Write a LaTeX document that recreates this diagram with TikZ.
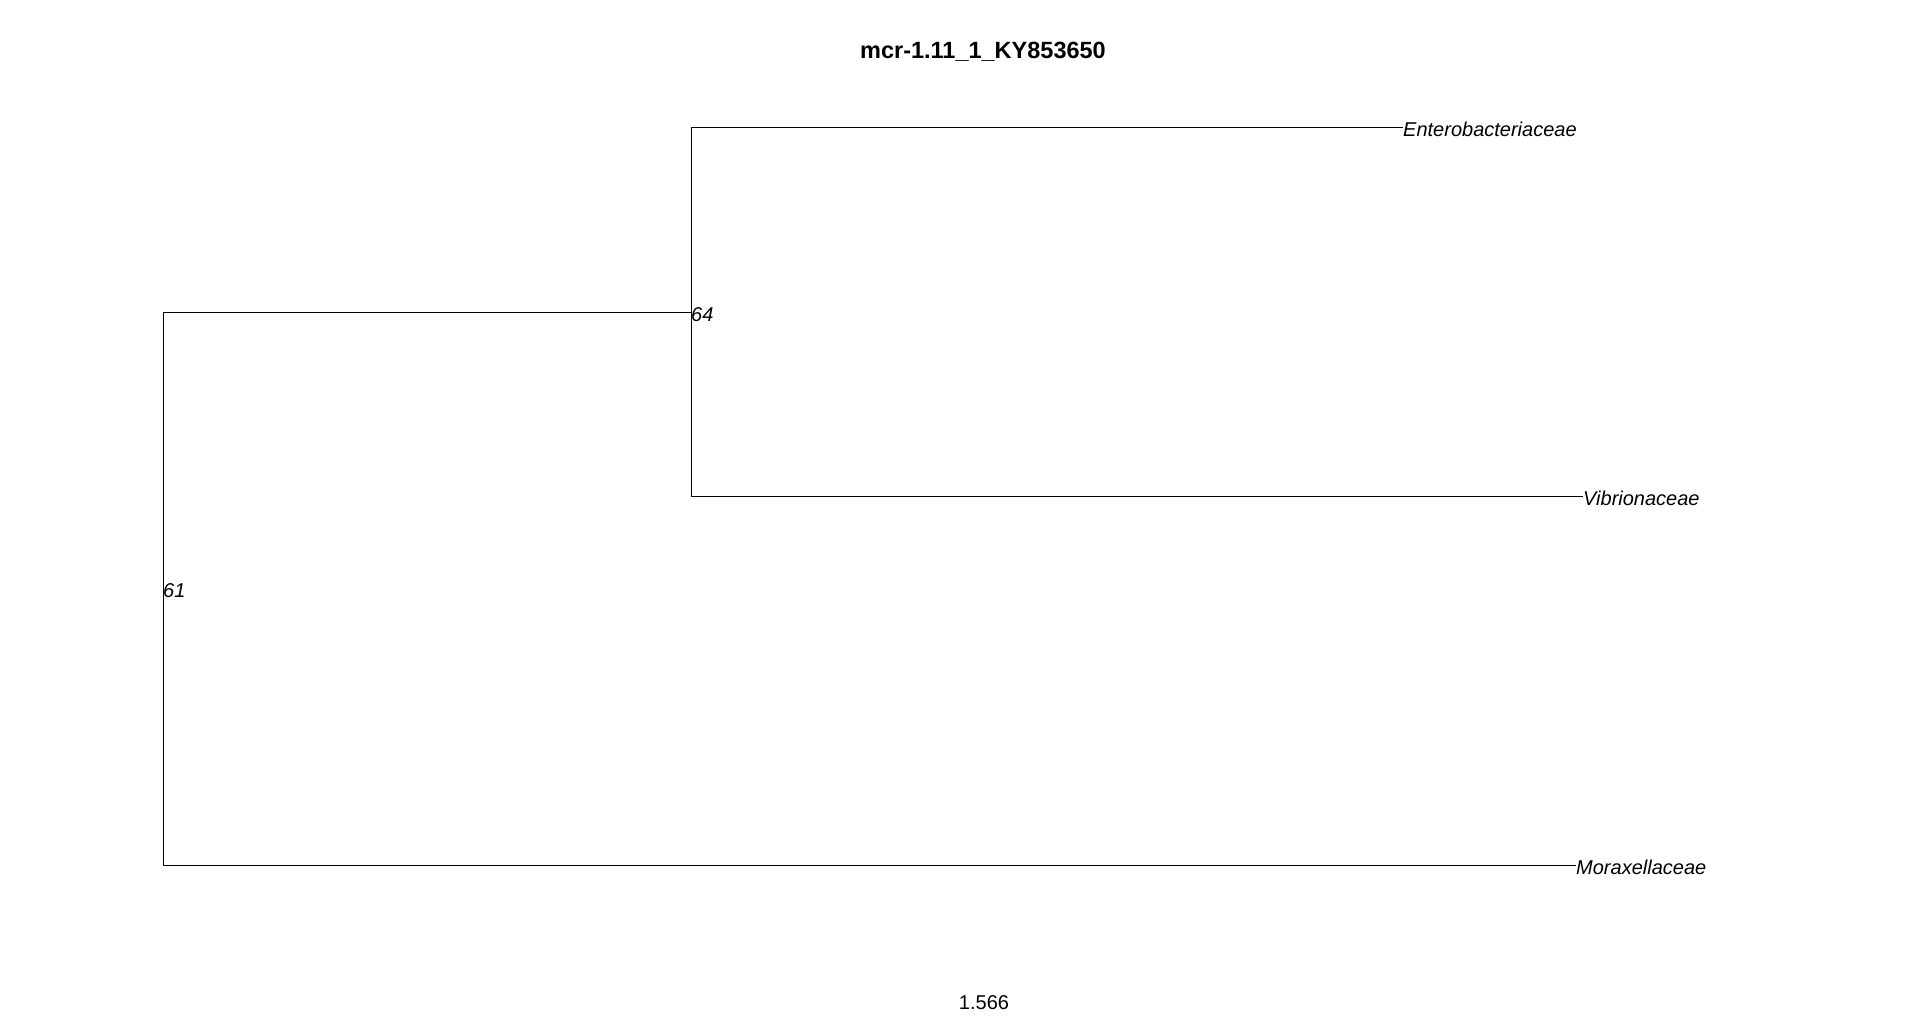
\documentclass[tikz,border=0pt]{standalone}
\usepackage{fontspec}
\setmainfont{Liberation Sans}
\begin{document}
\begin{tikzpicture}[x=1pt,y=-1pt,
  branch/.style={draw=black,line width=1pt},
  tiplab/.style={anchor=west,inner sep=0pt,yshift=-2pt,font=\fontsize{20}{22}\selectfont\itshape},
  nodelab/.style={anchor=west,inner sep=0pt,font=\fontsize{20}{22}\selectfont\itshape}]
\useasboundingbox[fill=white] (0,0) rectangle (1920,1017);
\node[font=\fontsize{23.5}{27}\selectfont\bfseries] (title) at (983,52) {mcr-1.11\_1\_KY853650};
\node[font=\fontsize{20}{22}\selectfont] (scale) at (984,1003) {1.566};
% internal nodes
\coordinate (rootT) at (163,312);
\coordinate (rootB) at (163,865);
\coordinate (n64) at (691,312);
\coordinate (n64T) at (691,127);
\coordinate (n64B) at (691,496);
\coordinate (tE) at (1403,127);
\coordinate (tV) at (1583,496);
\coordinate (tM) at (1576,865);
% branches
\draw[branch] (rootT) -- (rootB);
\draw[branch] (rootT) -- (n64);
\draw[branch] (rootB) -- (tM);
\draw[branch] (n64T) -- (n64B);
\draw[branch] (n64T) -- (tE);
\draw[branch] (n64B) -- (tV);
% labels
\node[tiplab] (lE) at (tE) {Enterobacteriaceae};
\node[tiplab] (lV) at (tV) {Vibrionaceae};
\node[tiplab] (lM) at (tM) {Moraxellaceae};
\node[nodelab] (l64) at (691,315) {64};
\node[nodelab] (l61) at (163,591) {61};
\end{tikzpicture}
\end{document}
